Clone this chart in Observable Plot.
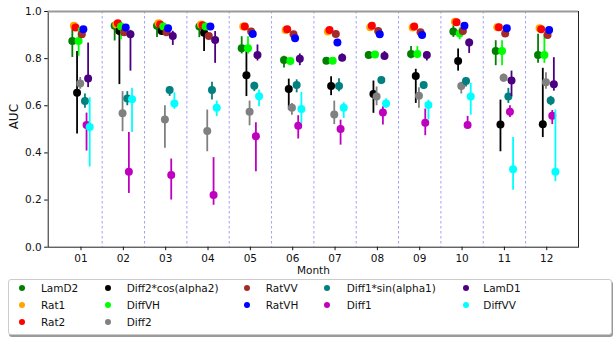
<!DOCTYPE html>
<html><head><meta charset="utf-8">
<script src="https://cdn.jsdelivr.net/npm/d3@7"></script>
<script src="https://cdn.jsdelivr.net/npm/@observablehq/plot@0.6"></script>
<style>
body{margin:0;background:#fff;font-family:"DejaVu Sans",sans-serif;}
#wrap{position:relative;width:615px;height:337px;overflow:hidden;}
#box{position:absolute;left:8px;top:279px;width:602px;height:54px;border:1px solid #ccc;border-radius:3px;box-shadow:1px 2px 0 #999;background:#fff;}
.dot{position:absolute;width:6px;height:6px;border-radius:50%;transform:translate(-50%,-50%);}
.lab{position:absolute;font-size:10.5px;line-height:12px;transform:translateY(-50%);white-space:nowrap;color:#111;}
</style></head><body>
<div id="wrap"><div id="chart"></div><div id="box"></div></div>
<script>
const months = ["01","02","03","04","05","06","07","08","09","10","11","12"];
const seriesNames = ["LamD2","Rat1","Rat2","Diff2*cos(alpha2)","DiffVH","Diff2","RatVV","RatVH","Diff1*sin(alpha1)","Diff1","LamD1","DiffVV"];
const seriesColors = ["#008000","#ffa500","#ff0000","#000000","#00ff00","#808080","#a52a2a","#0000ff","#008080","#bf00bf","#4b0082","#00ffff"];

const LamD2_mean = [0.875,0.94,0.94,0.936,0.844,0.794,0.791,0.815,0.82,0.915,0.832,0.815];
const LamD2_lo   = [0.805,0.875,0.89,0.889,0.82,0.76,0.78,0.80,0.80,0.89,0.77,0.78];
const LamD2_hi   = [0.93,0.955,0.95,0.945,0.893,0.81,0.80,0.83,0.851,0.94,0.876,0.903];

const Rat1_mean = [0.94,0.945,0.95,0.945,0.936,0.921,0.915,0.933,0.932,0.957,0.933,0.929];
const Rat1_lo   = [0.93,0.935,0.94,0.935,0.926,0.911,0.905,0.923,0.922,0.947,0.923,0.919];
const Rat1_hi   = [0.95,0.955,0.96,0.955,0.946,0.931,0.925,0.943,0.942,0.967,0.943,0.939];

const Rat2_mean = [0.932,0.95,0.945,0.942,0.936,0.925,0.921,0.94,0.936,0.954,0.933,0.925];
const Rat2_lo   = [0.922,0.94,0.935,0.932,0.926,0.915,0.911,0.93,0.926,0.944,0.923,0.915];
const Rat2_hi   = [0.942,0.96,0.955,0.952,0.946,0.935,0.931,0.95,0.946,0.964,0.943,0.935];

const Diff2cos_mean = [0.655,0.917,0.917,0.91,0.73,0.671,0.684,0.65,0.726,0.79,0.521,0.522];
const Diff2cos_lo   = [0.48,0.69,0.905,0.83,0.639,0.582,0.643,0.568,0.61,0.747,0.405,0.465];
const Diff2cos_hi   = [0.83,0.94,0.93,0.936,0.83,0.713,0.723,0.705,0.755,0.841,0.624,0.759];

const DiffVH_mean = [0.875,0.936,0.936,0.936,0.844,0.79,0.791,0.818,0.82,0.907,0.832,0.815];
const DiffVH_lo   = [0.81,0.88,0.92,0.92,0.82,0.77,0.78,0.81,0.80,0.88,0.77,0.78];
const DiffVH_hi   = [0.93,0.95,0.945,0.945,0.893,0.80,0.80,0.83,0.851,0.93,0.876,0.903];

const Diff2_mean = [0.694,0.568,0.542,0.493,0.575,0.592,0.563,0.639,0.643,0.684,0.719,0.70];
const Diff2_lo   = [0.67,0.49,0.42,0.405,0.515,0.56,0.52,0.60,0.589,0.65,0.70,0.67];
const Diff2_hi   = [0.72,0.66,0.60,0.582,0.62,0.61,0.62,0.68,0.677,0.70,0.735,0.74];

const RatVV_mean = [0.903,0.912,0.912,0.896,0.915,0.903,0.905,0.917,0.912,0.917,0.907,0.90];
const RatVV_lo   = [0.893,0.902,0.902,0.886,0.905,0.893,0.895,0.907,0.902,0.907,0.897,0.89];
const RatVV_hi   = [0.913,0.922,0.922,0.906,0.925,0.913,0.915,0.927,0.922,0.927,0.917,0.91];

const RatVH_mean = [0.925,0.932,0.929,0.936,0.905,0.886,0.869,0.903,0.90,0.94,0.929,0.921];
const RatVH_lo   = [0.915,0.922,0.919,0.926,0.895,0.876,0.859,0.893,0.89,0.93,0.919,0.911];
const RatVH_hi   = [0.935,0.942,0.939,0.946,0.915,0.896,0.879,0.913,0.91,0.95,0.939,0.931];

const Diff1sin_mean = [0.62,0.631,0.667,0.667,0.685,0.688,0.684,0.709,0.688,0.705,0.639,0.622];
const Diff1sin_lo   = [0.59,0.60,0.64,0.624,0.66,0.655,0.66,0.69,0.67,0.68,0.61,0.60];
const Diff1sin_hi   = [0.65,0.66,0.68,0.70,0.70,0.71,0.715,0.72,0.70,0.72,0.674,0.64];

const Diff1_mean = [0.518,0.32,0.306,0.221,0.471,0.515,0.501,0.572,0.528,0.518,0.575,0.558];
const Diff1_lo   = [0.408,0.228,0.20,0.178,0.32,0.459,0.433,0.518,0.473,0.51,0.55,0.52];
const Diff1_hi   = [0.569,0.487,0.374,0.38,0.528,0.558,0.539,0.596,0.586,0.555,0.60,0.58];

const LamD1_mean = [0.716,0.903,0.896,0.879,0.815,0.80,0.804,0.811,0.815,0.869,0.707,0.691];
const LamD1_lo   = [0.677,0.747,0.856,0.78,0.79,0.77,0.79,0.80,0.79,0.822,0.639,0.662];
const LamD1_hi   = [0.866,0.92,0.916,0.915,0.858,0.82,0.82,0.83,0.83,0.883,0.747,0.804];

const DiffVV_mean = [0.51,0.628,0.61,0.592,0.64,0.586,0.592,0.61,0.603,0.639,0.331,0.32];
const DiffVV_lo   = [0.34,0.487,0.585,0.554,0.596,0.525,0.546,0.59,0.54,0.56,0.242,0.278];
const DiffVV_hi   = [0.634,0.674,0.655,0.62,0.667,0.657,0.613,0.63,0.624,0.695,0.465,0.582];

const yTicks = [0.0,0.2,0.4,0.6,0.8,1.0];

const seriesData = [
  [LamD2_mean,LamD2_lo,LamD2_hi],
  [Rat1_mean,Rat1_lo,Rat1_hi],
  [Rat2_mean,Rat2_lo,Rat2_hi],
  [Diff2cos_mean,Diff2cos_lo,Diff2cos_hi],
  [DiffVH_mean,DiffVH_lo,DiffVH_hi],
  [Diff2_mean,Diff2_lo,Diff2_hi],
  [RatVV_mean,RatVV_lo,RatVV_hi],
  [RatVH_mean,RatVH_lo,RatVH_hi],
  [Diff1sin_mean,Diff1sin_lo,Diff1sin_hi],
  [Diff1_mean,Diff1_lo,Diff1_hi],
  [LamD1_mean,LamD1_lo,LamD1_hi],
  [DiffVV_mean,DiffVV_lo,DiffVV_hi]
];

const nS = seriesNames.length;
const step = 0.0373;
const marks = [];
const separators = months.slice(1).map((_, i) => i + 1.5);
marks.push(Plot.ruleX(separators, {x: d => d, stroke: "#9f9fff", strokeWidth: 1, strokeDasharray: "2.5,2.5"}));

seriesData.forEach(([mean, lo, hi], i) => {
  const rows = months.map((m, j) => ({x: j + 1 + (i - (nS - 1) / 2) * step, mean: mean[j], lo: lo[j], hi: hi[j]}));
  const c = seriesColors[i];
  marks.push(Plot.ruleX(rows, {x: "x", y1: "lo", y2: "hi", stroke: c, strokeWidth: 1.8}));
  marks.push(Plot.dot(rows, {x: "x", y: "mean", r: 4, fill: c, stroke: "none"}));
});

marks.push(Plot.frame({stroke: "#222", strokeWidth: 1}));
marks.push(Plot.ruleY([1], {stroke: "#999", strokeWidth: 2}));
marks.push(Plot.axisY({ticks: yTicks, tickFormat: d3.format(".1f"), tickSize: 3.5, tickPadding: 3, label: null}));
marks.push(Plot.axisX({ticks: months.map((_, i) => i + 1), tickFormat: d => months[d - 1], tickSize: 3.5, tickPadding: 4, label: null}));
marks.push(Plot.text(["AUC"], {frameAnchor: "left", dx: -34, rotate: -90, text: d => d, fontSize: 12, fill: "#111"}));
marks.push(Plot.text(["Month"], {frameAnchor: "bottom", dy: 26.5, text: d => d, fontSize: 10.5, fill: "#111"}));

const chart = Plot.plot({
  width: 615,
  height: 278,
  marginLeft: 47.7,
  marginRight: 37,
  marginTop: 11,
  marginBottom: 31.3,
  x: {type: "linear", domain: [0.225, 12.75]},
  y: {domain: [0, 1]},
  style: {fontFamily: "DejaVu Sans", fontSize: "10.5px", color: "#111", background: "#fff"},
  marks
});
document.getElementById("chart").appendChild(chart);

// legend (column-major, like the reference)
const colCounts = [3, 3, 2, 2, 2];
const dotX = [21.7, 107.7, 246.7, 327.3, 465.7];
const textX = [41, 126.7, 265.7, 346.7, 483.3];
const rowY = [288.3, 305, 322.3];
const wrap = document.getElementById("wrap");
let k = 0;
colCounts.forEach((n, col) => {
  for (let r = 0; r < n; r++, k++) {
    const d = document.createElement("div");
    d.className = "dot";
    d.style.left = dotX[col] + "px";
    d.style.top = rowY[r] + "px";
    d.style.background = seriesColors[k];
    wrap.appendChild(d);
    const t = document.createElement("div");
    t.className = "lab";
    t.style.left = textX[col] + "px";
    t.style.top = rowY[r] + "px";
    t.textContent = seriesNames[k];
    wrap.appendChild(t);
  }
});
</script>
</body></html>
